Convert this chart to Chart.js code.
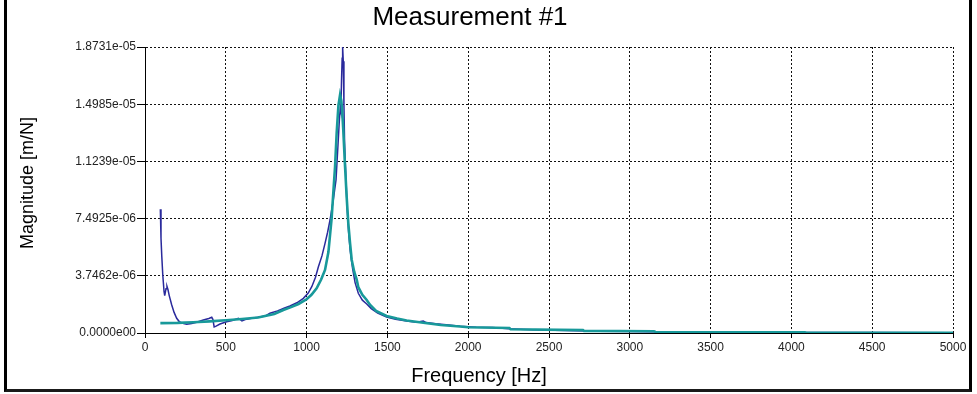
<!DOCTYPE html>
<html><head><meta charset="utf-8">
<script src="https://cdn.jsdelivr.net/npm/chart.js@4.4.1/dist/chart.umd.min.js"></script>
<style>
html,body{margin:0;padding:0;background:#fff;overflow:hidden;}
#wrap{position:relative;width:977px;height:394px;}
#frame{position:absolute;left:4px;top:0;width:968px;height:392px;box-sizing:border-box;border-left:3px solid #000;border-right:3px solid #000;border-bottom:3px solid #1a1a1a;pointer-events:none;}
canvas{position:absolute;left:0;top:0;}
</style></head><body>
<div id="wrap"><canvas id="c" width="977" height="394"></canvas><div id="frame"></div></div>
<script>
const chartTitle = 'Measurement #1';
const xAxisTitle = 'Frequency [Hz]';
const yAxisTitle = 'Magnitude [m/N]';
const xTickValues = [0, 500, 1000, 1500, 2000, 2500, 3000, 3500, 4000, 4500, 5000];
const yTickValues = [0, 3.7462e-6, 7.4925e-6, 1.1239e-5, 1.4985e-5, 1.8731e-5];
const yTickLabels = ['0.0000e00', '3.7462e-06', '7.4925e-06', '1.1239e-05', '1.4985e-05', '1.8731e-05'];

// measured FRF (navy), magnitude in micro m/N
const freqMeasured = [95, 99, 104, 110, 118, 122, 130, 136, 142, 150, 165, 180, 196, 212, 227, 258, 289, 320, 361, 395, 413, 420, 428, 440, 464, 505, 540, 578, 590, 600, 620, 660, 700, 743, 773, 820, 860, 897, 940, 980, 1010, 1032, 1055, 1073, 1095, 1114, 1130, 1145, 1165, 1182, 1196, 1203, 1208, 1212, 1216, 1220, 1223, 1227, 1231, 1235, 1238, 1244, 1250, 1260, 1270, 1285, 1300, 1320, 1345, 1372, 1400, 1440, 1495, 1550, 1619, 1680, 1722, 1740, 1800, 1880, 1950, 2050, 2150, 2250, 2400, 2600, 2800, 3000, 3200, 3500, 4000, 4100, 4500, 5000];
const magMeasured = [8.10, 6.20, 5.00, 3.80, 2.70, 2.45, 2.90, 3.05, 2.85, 2.45, 1.85, 1.35, 0.96, 0.75, 0.66, 0.58, 0.62, 0.70, 0.85, 0.95, 1.03, 0.90, 0.40, 0.45, 0.59, 0.74, 0.82, 0.96, 0.88, 0.80, 0.88, 0.96, 1.03, 1.11, 1.29, 1.45, 1.62, 1.77, 1.98, 2.27, 2.62, 3.03, 3.65, 4.34, 5.05, 5.87, 6.60, 7.40, 8.70, 10.02, 12.64, 14.0, 14.7, 14.5, 16.5, 18.0, 18.731, 17.8, 15.0, 12.5, 11.55, 10.02, 8.4, 6.6, 5.4, 4.2, 3.3, 2.60, 2.15, 1.90, 1.60, 1.30, 1.05, 0.90, 0.78, 0.70, 0.78, 0.68, 0.60, 0.52, 0.45, 0.38, 0.36, 0.28, 0.22, 0.16, 0.12, 0.10, 0.07, 0.06, 0.05, 0.03, 0.025, 0.02];

// fitted FRF (teal), magnitude in micro m/N
const freqFit = [95, 200, 300, 400, 500, 600, 700, 800, 856, 900, 950, 1000, 1030, 1062, 1090, 1114, 1135, 1155, 1165, 1176, 1186, 1197, 1207, 1215, 1220, 1227, 1238, 1248, 1258, 1269, 1279, 1295, 1310, 1320, 1345, 1372, 1392, 1430, 1495, 1560, 1619, 1722, 1830, 1949, 2000, 2255, 2262, 2710, 2716, 3150, 3160, 4080, 4090, 5000];
const magFit = [0.65, 0.66, 0.70, 0.76, 0.84, 0.92, 1.02, 1.25, 1.51, 1.68, 1.90, 2.21, 2.50, 2.93, 3.50, 4.13, 5.30, 7.53, 9.15, 10.89, 13.08, 14.90, 15.59, 15.20, 14.60, 13.29, 10.89, 8.90, 7.20, 5.87, 4.80, 4.00, 3.50, 3.00, 2.50, 2.16, 1.85, 1.45, 1.12, 0.95, 0.82, 0.67, 0.52, 0.43, 0.38, 0.33, 0.25, 0.19, 0.14, 0.11, 0.07, 0.05, 0.025, 0.02];

const toPoints = (fs, ms) => fs.map((f, i) => ({x: f, y: ms[i] * 1e-6}));

const FONT = "'Liberation Sans', Arial, sans-serif";

const titlesPlugin = {
  id: 'titles',
  afterDraw(chart) {
    const ctx = chart.ctx;
    ctx.save();
    ctx.fillStyle = '#000';
    ctx.textAlign = 'center';
    ctx.textBaseline = 'middle';
    ctx.font = '26px ' + FONT;
    ctx.fillText(chartTitle, 470, 18);
    ctx.font = '20px ' + FONT;
    ctx.fillText(xAxisTitle, 479, 376);
    ctx.translate(28, 183);
    ctx.rotate(-Math.PI / 2);
    ctx.font = '18px ' + FONT;
    ctx.fillText(yAxisTitle, 0, 0);
    ctx.restore();
  }
};

new Chart(document.getElementById('c'), {
  type: 'line',
  data: {
    datasets: [
      {
        label: 'Fit',
        data: toPoints(freqFit, magFit),
        borderColor: '#18999a',
        borderWidth: 2.6,
        pointRadius: 0,
        tension: 0,
        fill: false
      },
      {
        label: 'Measured',
        data: toPoints(freqMeasured, magMeasured),
        borderColor: '#2a2a9c',
        borderWidth: 1.5,
        pointRadius: 0,
        tension: 0,
        fill: false
      }
    ]
  },
  options: {
    responsive: false,
    animation: false,
    devicePixelRatio: 1,
    layout: {padding: {left: 0, right: 24, top: 47, bottom: 0}},
    plugins: {legend: {display: false}, tooltip: {enabled: false}, title: {display: false}},
    scales: {
      x: {
        type: 'linear', min: 0, max: 5000,
        afterBuildTicks: s => { s.ticks = xTickValues.map(v => ({value: v})); },
        afterFit: s => { s.height = 61; },
        ticks: {callback: v => String(v), font: {family: FONT, size: 12}, color: '#222', padding: 2, maxRotation: 0, autoSkip: false},
        grid: {color: '#111', lineWidth: 1, tickLength: 5, tickColor: '#000', drawTicks: true},
        border: {display: true, color: '#000', width: 1, dash: [2, 2]}
      },
      y: {
        type: 'linear', min: 0, max: 1.8731e-5,
        afterBuildTicks: s => { s.ticks = yTickValues.map(v => ({value: v})); },
        afterFit: s => { s.width = 145; },
        ticks: {callback: (v, i) => yTickLabels[i], font: {family: FONT, size: 12}, color: '#222', padding: 1, autoSkip: false},
        grid: {color: '#111', lineWidth: 1, tickLength: 8, tickColor: '#000', drawTicks: true},
        border: {display: true, color: '#000', width: 1, dash: [2, 2]}
      }
    }
  },
  plugins: [titlesPlugin]
});
</script>
</body></html>
